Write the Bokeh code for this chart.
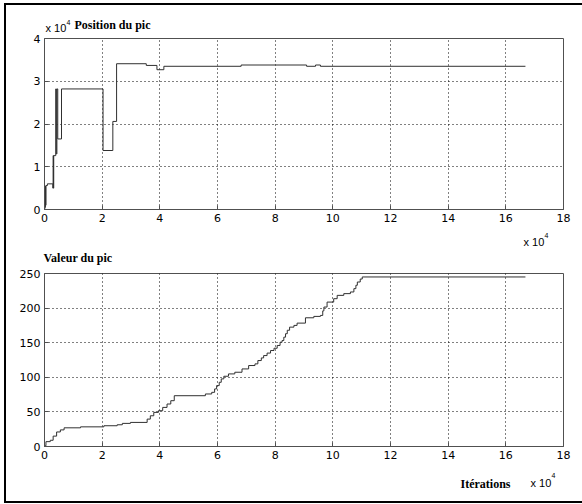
from bokeh.plotting import figure
from bokeh.models import Range1d, Label, FixedTicker, CustomJSTickFormatter
from bokeh.layouts import column
from bokeh.embed import file_html
from bokeh.resources import INLINE

# ---------------- data ----------------
# top panel: peak position vs iteration (raw units), step "after"
pos_iter = [0, 100, 200, 300, 400, 500, 1000, 2900, 3000, 3100, 3200,
            3900, 4100, 4300, 4600, 5900, 20300, 23700, 25000, 35300,
            39000, 41400, 68200, 90900, 94000, 95700, 166800]
pos_val = [0, 5500, 500, 5500, 1000, 5600, 6000, 5000, 12600, 5000, 12600,
           28200, 13000, 28200, 16500, 28200, 13800, 20600, 34100, 33700,
           32700, 33500, 33800, 33500, 33800, 33500, 33500]

# bottom panel: peak value vs iteration, step "after"
val_iter = [0, 500, 2000, 3000, 4200, 5500, 6800, 12500, 20600, 25200, 27000, 29800,
            35600, 36700, 37900, 39500, 41000, 42500, 43800, 45000, 55800, 58000,
            59000, 59700, 60600, 61300, 62200, 63800, 66000, 68500, 70800, 73000,
            74000, 75200, 76000, 77200, 78400, 79600, 80700, 81700, 82400, 83000,
            83600, 84200, 85000, 86500, 87600, 90500, 93400, 95700, 96500, 96900,
            98000, 100300, 101500, 103800, 106100, 107300, 108000, 108500, 109500,
            110200, 166800]
val_val = [1, 7, 9, 15, 21, 24, 27, 28.4, 30, 31.4, 33.4, 34.8,
           39.6, 44.4, 49.3, 51.7, 56.5, 61.4, 66.2, 73.4, 75.9, 78.3,
           83.2, 88, 92.8, 97.7, 101.5, 104.9, 107.3, 112.1, 117, 119.4,
           124.2, 128, 131.4, 135, 138.7, 142, 146, 150.7, 153.2, 158,
           163, 168, 172.5, 175, 178.3, 186, 188, 189.4, 196, 201.5,
           208.7, 213.6, 218.4, 220.9, 223.3, 228.1, 233, 237.7, 242,
           245, 245]

x_ticks = [0, 20000, 40000, 60000, 80000, 100000, 120000, 140000, 160000, 180000]
pos_ticks = [0, 10000, 20000, 30000, 40000]
val_ticks = [0, 50, 100, 150, 200, 250]

title_top = "Position du pic"
title_bot = "Valeur du pic"
xlabel = "Itérations"
exp_text = "x 10"
exp_sup = "4"

TICK_FONT = "DejaVu Sans"
EXP_FONT = "Liberation Sans"
SERIF = "Liberation Serif"
AXCOL = "#505050"
W = 576


def make_fig(height, yr, yticks, top, bottom, yfmt):
    p = figure(width=W, height=height, x_range=Range1d(0, 180000), y_range=yr,
               output_backend="svg", toolbar_location=None, frame_align=False,
               min_border_left=38, min_border_right=19,
               min_border_top=top, min_border_bottom=bottom)
    p.background_fill_color = "white"
    p.border_fill_color = "white"
    p.outline_line_color = AXCOL
    p.outline_line_width = 1
    p.xaxis.ticker = FixedTicker(ticks=x_ticks)
    p.yaxis.ticker = FixedTicker(ticks=yticks)
    p.xaxis.formatter = CustomJSTickFormatter(code="return (tick/1e4).toFixed(0)")
    if yfmt:
        p.yaxis.formatter = CustomJSTickFormatter(code="return (tick/1e4).toFixed(0)")
    for ax in (p.xaxis, p.yaxis):
        ax.axis_line_color = AXCOL
        ax.major_tick_line_color = AXCOL
        ax.major_tick_in = 4
        ax.major_tick_out = 0
        ax.minor_tick_line_color = None
        ax.major_label_text_font = TICK_FONT
        ax.major_label_text_font_size = "11px"
        ax.major_label_text_color = "black"
        ax.major_label_standoff = 4
    for g in (p.xgrid, p.ygrid):
        g.grid_line_color = "black"
        g.grid_line_dash = "1 3"
        g.grid_line_width = 1
        g.grid_line_alpha = 1
    return p


def make_strip(height):
    s = figure(width=W, height=height, x_range=Range1d(0, W), y_range=Range1d(height, 0),
               output_backend="svg", toolbar_location=None, frame_align=False,
               x_axis_type=None, y_axis_type=None,
               min_border_left=0, min_border_right=0,
               min_border_top=0, min_border_bottom=0)
    s.grid.visible = False
    s.outline_line_color = None
    s.background_fill_color = "white"
    s.border_fill_color = "white"
    return s


SHIFT = 5  # compensates the renderer's baseline placement


def add_text(s, top, page_x, page_y, txt, font, size, bold=False):
    s.add_layout(Label(x=page_x - 6, y=page_y - top - SHIFT, text=txt, text_font=font,
                       text_font_size=size,
                       text_font_style="bold" if bold else "normal",
                       text_color="black", text_baseline="alphabetic"))


# strip A: page y 5..33
sA = make_strip(28)
add_text(sA, 5, 45, 32, exp_text, EXP_FONT, "11px")
add_text(sA, 5, 66, 27, exp_sup, EXP_FONT, "7px")
add_text(sA, 5, 74, 29, title_top, SERIF, "12px", True)

# top plot: page y 33..228, frame 38..209
p1 = make_fig(195, Range1d(0, 40000), pos_ticks, 5, 19, True)
p1.step(pos_iter, pos_val, mode="after", line_color="#303030", line_width=1)

# strip B: page y 228..266
sB = make_strip(38)
add_text(sB, 228, 523, 246, exp_text, EXP_FONT, "11px")
add_text(sB, 228, 544, 240, exp_sup, EXP_FONT, "7px")
add_text(sB, 228, 43, 262, title_bot, SERIF, "12px", True)

# bottom plot: page y 266..462, frame 273..446
p2 = make_fig(196, Range1d(0, 250), val_ticks, 7, 16, False)
p2.step(val_iter, val_val, mode="after", line_color="#303030", line_width=1)

# strip C: page y 462..501
sC = make_strip(39)
add_text(sC, 462, 460, 488, xlabel, SERIF, "12px", True)
add_text(sC, 462, 530, 487, exp_text, EXP_FONT, "11px")
add_text(sC, 462, 551, 480, exp_sup, EXP_FONT, "7px")

layout = column(sA, p1, sB, p2, sC, spacing=0,
                styles={"margin-left": "4px", "margin-top": "3px",
                        "border-left": "2px solid black",
                        "border-top": "2px solid black",
                        "border-bottom": "2px solid black"})

open("out.html", "w").write(file_html(layout, INLINE))
